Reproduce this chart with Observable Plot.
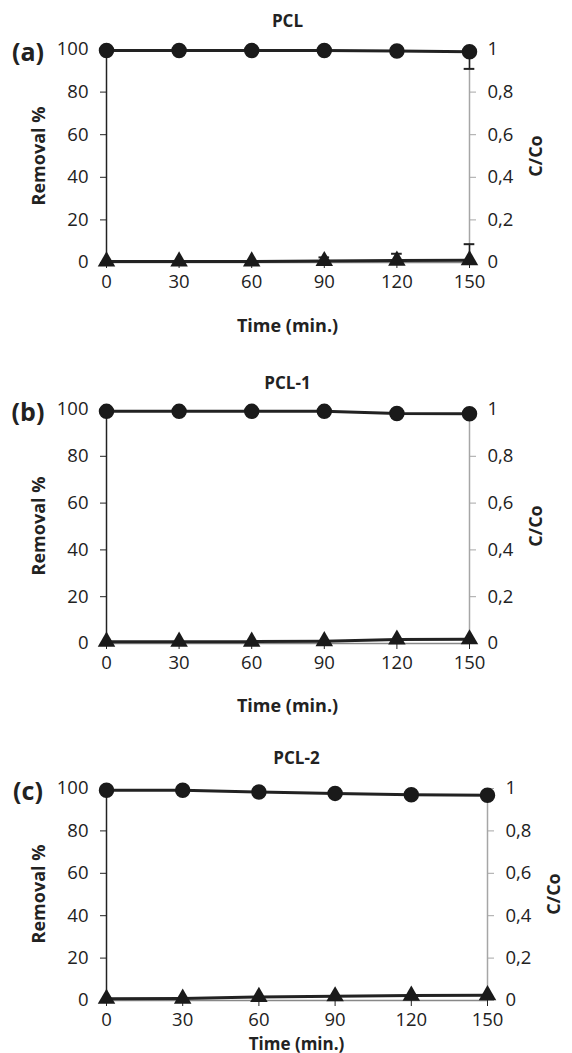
<!DOCTYPE html>
<html><head><meta charset="utf-8">
<script src="https://cdn.jsdelivr.net/npm/d3@7"></script>
<script src="https://cdn.jsdelivr.net/npm/@observablehq/plot@0.6"></script>
<style>
body{margin:0;background:#fff;font-family:"Open Sans",sans-serif;}
#root{position:relative;width:572px;height:1053px;overflow:hidden;}
.abs{position:absolute;color:#222;white-space:nowrap;line-height:1;}
.ttl{font-weight:700;font-size:17px;transform:translate(-50%,-50%);}
.lab{font-weight:700;font-size:25px;transform:translate(-50%,-50%);}
.ylab{font-weight:700;font-size:18px;transform:translate(-50%,-50%) rotate(-90deg);}
.xlab{font-weight:700;font-size:18px;transform:translate(-50%,-50%);}
.xlab.small{font-size:17px;}
</style></head>
<body><div id="root"></div>
<script>
const times = [0, 30, 60, 90, 120, 150];
const xTicks = [0, 30, 60, 90, 120, 150];
const yTicks = [0, 20, 40, 60, 80, 100];
const rightTicks = [0, 0.2, 0.4, 0.6, 0.8, 1];
const panelNames = ["PCL", "PCL-1", "PCL-2"];
const panelLetters = ["(a)", "(b)", "(c)"];
// Removal % (left axis)
const removalA = [99.5, 99.5, 99.5, 99.5, 99.3, 98.9];
const removalB = [99.2, 99.2, 99.2, 99.2, 98.3, 98.2];
const removalC = [99.2, 99.2, 98.3, 97.7, 97.1, 96.8];
const removalErrA = [0, 0, 0, 0, 1, 8];
const removalErrB = [0, 0, 0, 0, 0, 0];
const removalErrC = [0, 0, 0, 0, 0, 0];
// C/Co (right axis)
const ccoA = [0.005, 0.005, 0.005, 0.007, 0.009, 0.011];
const ccoB = [0.008, 0.008, 0.008, 0.010, 0.017, 0.018];
const ccoC = [0.008, 0.009, 0.017, 0.020, 0.023, 0.025];
const ccoErrA = [0, 0, 0, 0.017, 0.032, 0.075];
const ccoErrB = [0, 0, 0, 0, 0, 0];
const ccoErrC = [0, 0, 0, 0, 0, 0];

const panels = [
  {removal: removalA, rErr: removalErrA, cco: ccoA, cErr: ccoErrA, top: 0,   height: 340, mt: 49, mb: 78, mr: 103, tickY: 21, labY: 63, titleY: 20, rLabX: 535, small: false},
  {removal: removalB, rErr: removalErrB, cco: ccoB, cErr: ccoErrB, top: 360, height: 360, mt: 49, mb: 77, mr: 103, tickY: 21, labY: 62, titleY: 382, rLabX: 535, small: false},
  {removal: removalC, rErr: removalErrC, cco: ccoC, cErr: ccoErrC, top: 740, height: 313, mt: 48, mb: 53, mr: 85,  tickY: 21, labY: 43, titleY: 757, rLabX: 553, small: true}
];

const root = document.getElementById("root");
function addDiv(cls, text, x, y){
  const d = document.createElement("div");
  d.className = "abs " + cls; d.textContent = text;
  d.style.left = x + "px"; d.style.top = y + "px";
  root.appendChild(d);
}

panels.forEach((p, i) => {
  const rows = times.map((t, k) => ({t, r: p.removal[k], re: p.rErr[k], c: p.cco[k], ce: p.cErr[k]}));
  const ml = 106;
  const chart = Plot.plot({
    width: 572, height: p.height,
    marginTop: p.mt, marginBottom: p.mb, marginLeft: ml, marginRight: p.mr,
    style: {fontFamily: "'Open Sans', sans-serif", fontSize: "18px", color: "#222", background: "transparent", overflow: "visible"},
    x: {domain: [0, 150]},
    y: {domain: [0, 100]},
    marks: [
      Plot.ruleX([150], {y1: 0, y2: 100, stroke: "#a6a6a6", strokeWidth: 1.5}),
      Plot.ruleY([0], {x1: 0, x2: 150, stroke: "#888", strokeWidth: 1.5}),
      Plot.ruleX([0], {y1: 0, y2: 100, stroke: "#222", strokeWidth: 1.5}),
      Plot.axisY({ticks: yTicks, tickSize: 6, tickPadding: 12, label: null, stroke: "#222", fontSize: 18.5}),
      Plot.axisY({anchor: "right", ticks: rightTicks.map(v => v * 100), tickSize: 6, tickPadding: 12, label: null,
        stroke: "#a6a6a6", fill: "#222", fontSize: 18.5,
        tickFormat: v => String(Math.round(v) / 100).replace(".", ",")}),
      Plot.axisX({ticks: xTicks, tickSize: 6, tickPadding: p.tickY - 15, label: null, stroke: "#222", fontSize: 18.5}),
      // error bars
      Plot.ruleX(rows.filter(d => d.re > 0), {x: "t", y1: d => d.r - d.re, y2: "r", stroke: "#222", strokeWidth: 1.5}),
      Plot.ruleY(rows.filter(d => d.re > 0), {y: d => d.r - d.re, x1: d => d.t - 2.2, x2: d => d.t + 2.2, stroke: "#222", strokeWidth: 2}),
      Plot.ruleX(rows.filter(d => d.ce > 0), {x: "t", y1: d => d.c * 100, y2: d => (d.c + d.ce) * 100, stroke: "#222", strokeWidth: 1.5}),
      Plot.ruleY(rows.filter(d => d.ce > 0), {y: d => (d.c + d.ce) * 100, x1: d => d.t - 2.2, x2: d => d.t + 2.2, stroke: "#222", strokeWidth: 2}),
      // lines + markers
      Plot.line(rows, {x: "t", y: "r", stroke: "#222", strokeWidth: 3}),
      Plot.dot(rows, {x: "t", y: "r", r: 7, fill: "#1a1a1a", stroke: "#1a1a1a"}),
      Plot.line(rows, {x: "t", y: d => d.c * 100, stroke: "#222", strokeWidth: 3}),
      Plot.dot(rows, {x: "t", y: d => d.c * 100, symbol: "triangle", r: 6.5, fill: "#1a1a1a"})
    ]
  });
  chart.style.position = "absolute";
  chart.style.left = "0px";
  chart.style.top = p.top + "px";
  root.appendChild(chart);

  const plotTop = p.top + p.mt;
  const plotBottom = p.top + p.height - p.mb;
  const xR = 572 - p.mr;
  addDiv("ttl", panelNames[i], (ml + xR) / 2, p.titleY);
  addDiv("lab", panelLetters[i], 28, plotTop + 2);
  addDiv("ylab", "Removal %", 38, (plotTop + plotBottom) / 2);
  addDiv("ylab", "C/Co", p.rLabX, (plotTop + plotBottom) / 2);
  addDiv("xlab" + (p.small ? " small" : ""), "Time (min.)", (ml + xR) / 2, plotBottom + p.labY);
});
</script>
</body></html>
